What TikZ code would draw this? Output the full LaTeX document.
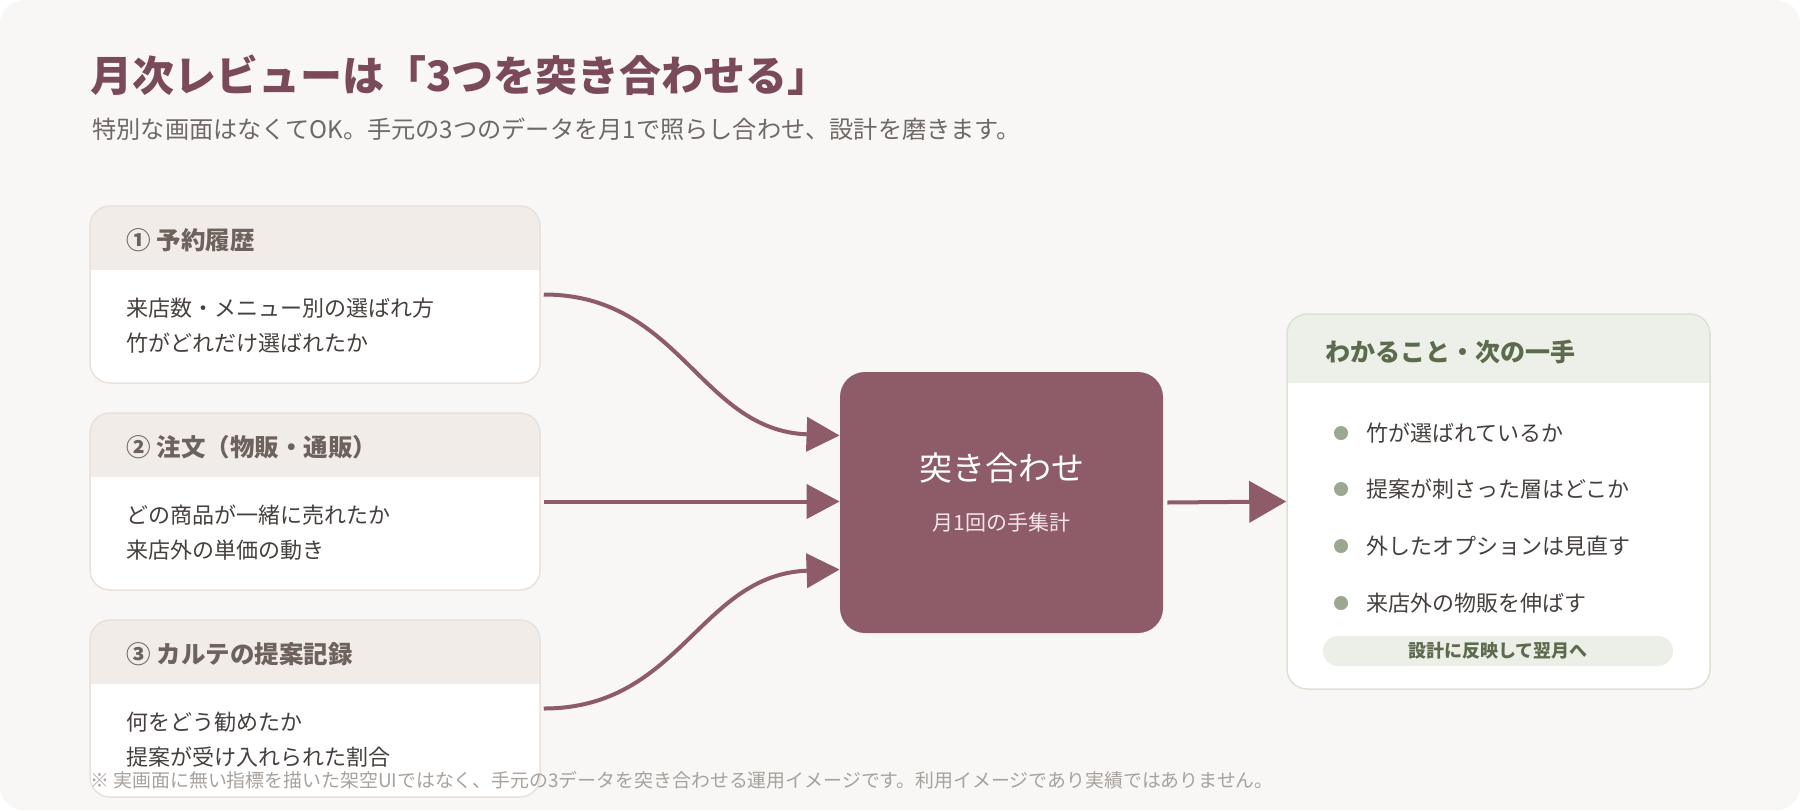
\documentclass[tikz,border=0pt]{standalone}
\usepackage{fontspec}
\setmainfont{Noto Sans CJK JP}
\usepackage{tikz}
\usetikzlibrary{arrows.meta, positioning}
\definecolor{pagebg}{RGB}{248, 247, 245}
\definecolor{srcline}{RGB}{233, 225, 219}
\definecolor{srchead}{RGB}{241, 236, 232}
\definecolor{srctext}{RGB}{110, 98, 92}
\definecolor{bodytext}{RGB}{69, 64, 61}
\definecolor{titlec}{RGB}{123, 74, 90}
\definecolor{subc}{RGB}{111, 104, 101}
\definecolor{plum}{RGB}{142, 91, 105}
\definecolor{hubsubc}{RGB}{243, 230, 234}
\definecolor{outline}{RGB}{220, 226, 211}
\definecolor{outhead}{RGB}{237, 240, 232}
\definecolor{outtext}{RGB}{92, 107, 78}
\definecolor{dotc}{RGB}{155, 168, 143}
\definecolor{pillc}{RGB}{236, 239, 231}
\definecolor{notec}{RGB}{168, 161, 156}

\begin{document}
\begin{tikzpicture}[
  x=0.5pt, y=-0.5pt,
  card/.style    = {draw=srcline, line width=0.75pt, fill=white,
                    rounded corners=10pt, inner sep=0pt,
                    minimum width=225pt, minimum height=88.5pt,
                    path picture={\fill[srchead, sharp corners]
                      (path picture bounding box.north west) rectangle
                      ([yshift=-32pt]path picture bounding box.north east);}},
  outcard/.style = {draw=outline, line width=0.75pt, fill=white,
                    rounded corners=10pt, inner sep=0pt,
                    minimum width=211.5pt, minimum height=187.5pt,
                    path picture={\fill[outhead, sharp corners]
                      (path picture bounding box.north west) rectangle
                      ([yshift=-34.5pt]path picture bounding box.north east);}},
  hub/.style     = {fill=plum, rounded corners=12.5pt, inner sep=0pt,
                    minimum width=161.5pt, minimum height=130.5pt},
  head/.style    = {anchor=west, inner sep=0pt, text=srctext,
                    font=\fontsize{12.25}{14}\selectfont\bfseries},
  body/.style    = {anchor=west, inner sep=0pt, text=bodytext, align=left,
                    font=\fontsize{11}{17.5}\selectfont},
  item/.style    = {anchor=west, inner sep=0pt, text=bodytext,
                    font=\fontsize{11}{13}\selectfont},
  dot/.style     = {circle, fill=dotc, inner sep=0pt, minimum size=7pt},
  arr/.style     = {draw=plum, line width=2pt,
                    -{Triangle[length=16.5pt, width=17pt]}},
  bigarr/.style  = {draw=plum, line width=2pt,
                    -{Triangle[length=18.5pt, width=20.5pt]}},
]
  % Page
  \fill[white] (0,0) rectangle (1800,810);
  \fill[pagebg, rounded corners=12pt] (0,0) rectangle (1800,810);
  \useasboundingbox (0,0) rectangle (1800,810);

  % Title
  \node[anchor=west, inner sep=0pt, text=titlec,
        font=\fontsize{21}{25}\selectfont\bfseries] (ttl) at (90,75)
        {月次レビューは「3つを突き合わせる」};
  \node[anchor=west, inner sep=0pt, text=subc,
        font=\fontsize{12.1}{14}\selectfont] (sub) at (92,129)
        {特別な画面はなくてOK。手元の3つのデータを月1で照らし合わせ、設計を磨きます。};

  % Sources
  \node[card] (rsv) at (315,294.5) {};
  \node[card] (ord) at (315,501.5) {};
  \node[card] (krt) at (315,708.5) {};

  \node[head] (rsvh) at (126,240) {① 予約履歴};
  \node[body] (rsvb) at (126,325.5) {来店数・メニュー別の選ばれ方\\竹がどれだけ選ばれたか};
  \node[head] (ordh) at (126,447) {② 注文（物販・通販）};
  \node[body] (ordb) at (126,532.5) {どの商品が一緒に売れたか\\来店外の単価の動き};
  \node[head] (krth) at (126,654) {③ カルテの提案記録};
  \node[body] (krtb) at (126,740) {何をどう勧めたか\\提案が受け入れられた割合};

  % Hub
  \node[hub] (box) at (1001.5,502.5) {};
  \node[inner sep=0pt, text=white,
        font=\fontsize{16.5}{19}\selectfont] (boxt) at (1001.5,468) {突き合わせ};
  \node[inner sep=0pt, text=hubsubc,
        font=\fontsize{10.5}{13}\selectfont] (boxs) at (1001.5,522) {月1回の手集計};

  % Result
  \node[outcard] (out) at (1498.5,501.5) {};
  \node[anchor=west, inner sep=0pt, text=outtext,
        font=\fontsize{12.5}{15}\selectfont\bfseries] (outh) at (1325,352)
        {わかること・次の一手};
  \foreach \y/\t [count=\i] in {433/竹が選ばれているか, 489/提案が刺さった層はどこか,
                               546/外したオプションは見直す, 603/来店外の物販を伸ばす}{
    \node[dot] (d\i) at (1341,\y) {};
    \node[item] (it\i) at (1366,\y) {\t};
  }
  \node[fill=pillc, rounded corners=7.5pt, inner sep=0pt,
        minimum width=175pt, minimum height=15pt, text=outtext,
        font=\fontsize{9}{10}\selectfont\bfseries] (pill) at (1498,651)
        {設計に反映して翌月へ};

  % Flows
  \draw[arr] ([xshift=1.5pt]rsv.east) .. controls +(137,0) and +(-140,-5) .. ([yshift=33.5pt]box.west);
  \draw[arr] ([xshift=1.5pt]ord.east) -- (ord.east -| box.west);
  \draw[arr] ([xshift=1.5pt]krt.east) .. controls +(137,0) and +(-140,5) .. ([yshift=-33.5pt]box.west);
  \draw[bigarr] ([xshift=2pt]box.east) -- (out.west);

  % Note
  \node[anchor=west, inner sep=0pt, text=notec,
        font=\fontsize{9.45}{12}\selectfont] (note) at (90,780)
        {※ 実画面に無い指標を描いた架空UIではなく、手元の3データを突き合わせる運用イメージです。利用イメージであり実績ではありません。};
\end{tikzpicture}
\end{document}
